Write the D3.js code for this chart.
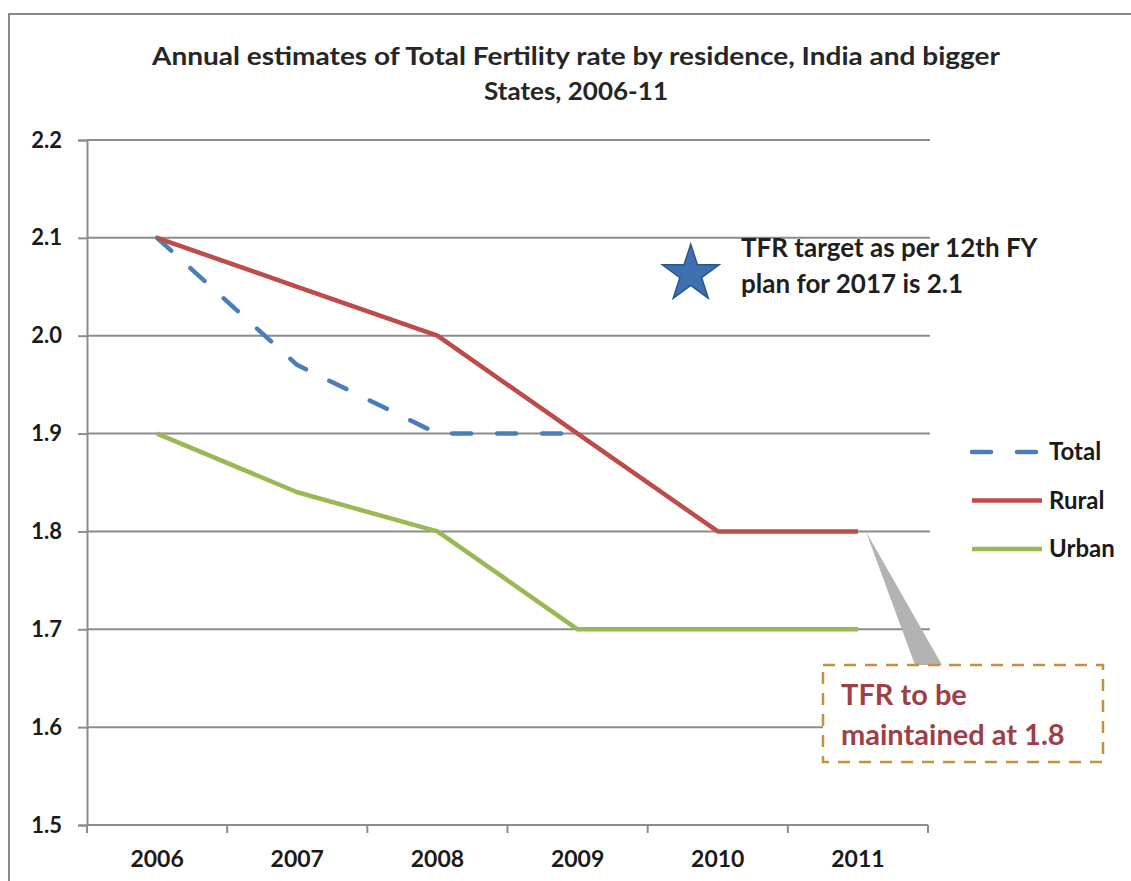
<!DOCTYPE html>
<html>
<head>
<meta charset="utf-8">
<script src="https://cdn.jsdelivr.net/npm/d3@7"></script>
<style>
  body { margin: 0; background: #fff; }
  svg { display: block; font-family: Lato, "Open Sans", sans-serif; }
</style>
</head>
<body>
<script>
// data
const years = ["2006", "2007", "2008", "2009", "2010", "2011"];
const total = [2.1, 1.97, 1.9, 1.9, null, null];
const rural = [2.1, 2.05, 2.0, 1.9, 1.8, 1.8];
const urban = [1.9, 1.84, 1.8, 1.7, 1.7, 1.7];
const yTicks = [1.5, 1.6, 1.7, 1.8, 1.9, 2.0, 2.1, 2.2];
const seriesNames = ["Total", "Rural", "Urban"];
const seriesColors = ["#4a7ebb", "#be4b48", "#98b954"];

const width = 1131;
const height = 881;
const svg = d3
  .select("body")
  .append("svg")
  .attr("width", width)
  .attr("height", height);

// outer chart border (only top and left visible)
svg.append("path")
  .attr("d", "M9,881 V14 H1131")
  .attr("fill", "none")
  .attr("stroke", "#8a8a8a")
  .attr("stroke-width", 2);

// title
const title = svg.append("text")
  .attr("text-anchor", "middle")
  .attr("font-size", 25)
  .attr("font-weight", "bold")
  .attr("fill", "#262626");
title.append("tspan").attr("x", 576).attr("y", 65)
  .attr("textLength", 848)
  .attr("lengthAdjust", "spacingAndGlyphs")
  .text("Annual estimates of Total Fertility rate by residence, India and bigger");
title.append("tspan").attr("x", 576).attr("y", 100)
  .attr("textLength", 184)
  .attr("lengthAdjust", "spacingAndGlyphs")
  .text("States, 2006-11");

const x = d3.scaleBand().domain(years).range([87, 928]).padding(0);
const y = d3.scaleLinear().domain([1.5, 2.2]).range([825, 140]);
const cx = (d) => x(d) + x.bandwidth() / 2;

// gridlines
svg.append("g")
  .selectAll("line")
  .data(yTicks.slice(1))
  .join("line")
  .attr("x1", 87)
  .attr("x2", 930)
  .attr("y1", (d) => y(d))
  .attr("y2", (d) => y(d))
  .attr("stroke", "#8c8c8c")
  .attr("stroke-width", 2);

// y axis
const yAxis = svg.append("g")
  .attr("transform", "translate(87,0)")
  .call(d3.axisLeft(y).tickValues(yTicks).tickSize(9).tickPadding(16).tickFormat(d3.format(".1f")));
yAxis.select(".domain").attr("stroke", "#8c8c8c").attr("stroke-width", 2);
yAxis.selectAll(".tick line").attr("stroke", "#8c8c8c").attr("stroke-width", 2);
yAxis.selectAll(".tick text")
  .attr("font-family", "Lato, sans-serif")
  .attr("font-size", 22)
  .attr("font-weight", "bold")
  .attr("fill", "#1a1a1a");

// x axis: line + ticks at band edges, labels at centers
const xAxis = svg.append("g").attr("transform", "translate(0,825)");
xAxis.append("line")
  .attr("x1", 87).attr("x2", 928)
  .attr("stroke", "#8c8c8c").attr("stroke-width", 2);
xAxis.selectAll("line.tk")
  .data(years.map((d) => x(d)).concat([x.range()[1]]))
  .join("line")
  .attr("class", "tk")
  .attr("x1", (d) => d).attr("x2", (d) => d)
  .attr("y1", 0).attr("y2", 8)
  .attr("stroke", "#8c8c8c").attr("stroke-width", 2);
xAxis.selectAll("text")
  .data(years)
  .join("text")
  .attr("x", (d) => cx(d))
  .attr("y", 42)
  .attr("text-anchor", "middle")
  .attr("font-size", 23)
  .attr("font-weight", "bold")
  .attr("fill", "#1a1a1a")
  .text((d) => d);

// callout pointer (drawn under the lines)
const tipX = cx("2011") + 8, tipY = y(1.8);
svg.append("path")
  .attr("d", `M${tipX},${tipY} L942,665 L915,665 Z`)
  .attr("fill", "#b3b3b3");

// series lines
const line = d3.line()
  .defined((d) => d.v != null)
  .x((d) => cx(d.year))
  .y((d) => y(d.v));

const series = [total, rural, urban];
series.forEach((vals, i) => {
  const pts = years.map((yr, j) => ({ year: yr, v: vals[j] }));
  svg.append("path")
    .datum(pts)
    .attr("fill", "none")
    .attr("stroke", seriesColors[i])
    .attr("stroke-width", 4.5)
    .attr("stroke-linejoin", "round")
    .attr("stroke-linecap", i === 0 ? "round" : "butt")
    .attr("stroke-dasharray", i === 0 ? "19,26" : null)
    .attr("d", line);
});
// keep Rural over Total
svg.selectAll("path").filter(function () { return d3.select(this).attr("stroke") === seriesColors[1]; }).raise();

// legend
const legend = svg.append("g");
seriesNames.forEach((name, i) => {
  const ly = 452 + i * 48.5;
  legend.append("line")
    .attr("x1", 972).attr("x2", 1042)
    .attr("y1", ly).attr("y2", ly)
    .attr("stroke", seriesColors[i])
    .attr("stroke-width", 4.5)
    .attr("stroke-linecap", i === 0 ? "round" : "butt")
    .attr("stroke-dasharray", i === 0 ? "19,26" : null);
  legend.append("text")
    .attr("x", 1049).attr("y", ly + 8)
    .attr("font-size", 24)
    .attr("font-weight", "bold")
    .attr("fill", "#1a1a1a")
    .text(name);
});

// star annotation
const star = d3.symbol().type(d3.symbolStar).size(1000);
svg.append("path")
  .attr("d", star())
  .attr("transform", `translate(${cx("2010") - 27},${y(2.063)})`)
  .attr("fill", "#3e6fb0")
  .attr("stroke", "#2b5590")
  .attr("stroke-width", 1.5);
const note = svg.append("text")
  .attr("font-size", 26)
  .attr("font-weight", "bold")
  .attr("fill", "#1f1f1f");
note.append("tspan").attr("x", 741).attr("y", 257).text("TFR target as per 12th FY");
note.append("tspan").attr("x", 741).attr("y", 293).text("plan for 2017 is 2.1");

// callout box
svg.append("rect")
  .attr("x", 823).attr("y", 665)
  .attr("width", 280).attr("height", 97)
  .attr("fill", "#fff")
  .attr("stroke", "#c4923f")
  .attr("stroke-width", 2.5)
  .attr("stroke-dasharray", "12,9");
const call = svg.append("text")
  .attr("font-size", 29)
  .attr("font-weight", "bold")
  .attr("fill", "#9e3f48");
call.append("tspan").attr("x", 841).attr("y", 705).text("TFR to be");
call.append("tspan").attr("x", 841).attr("y", 745).text("maintained at 1.8");
</script>
</body>
</html>
